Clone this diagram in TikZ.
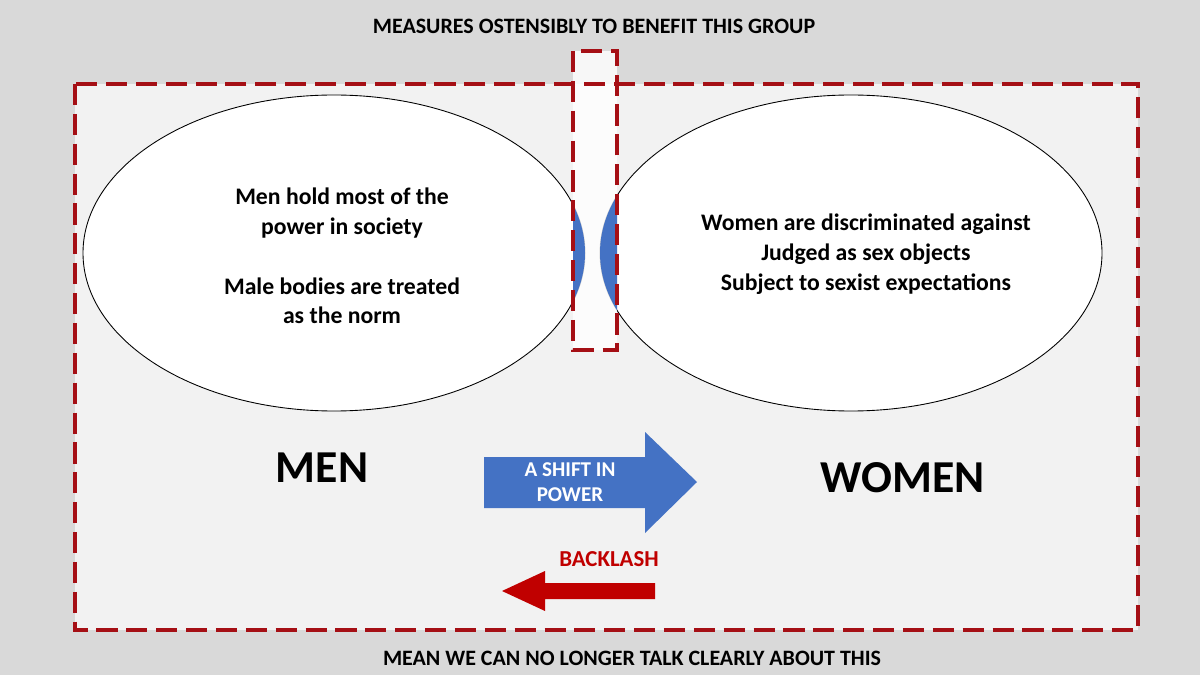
\documentclass[tikz,border=0pt]{standalone}
\usepackage{fontspec}
\setmainfont{Carlito}
\definecolor{dashred}{HTML}{A50F15}
\definecolor{arrowred}{HTML}{C00000}
\definecolor{shiftblue}{HTML}{4472C4}
\tikzset{
  frame/.style={draw=dashred, line width=1.8pt, dash pattern=on 12pt off 5pt},
  group/.style={draw=black, line width=0.5pt, fill=white},
  note/.style={font=\bfseries\fontsize{13.5}{17}\selectfont, align=center},
  caption/.style={font=\bfseries\fontsize{12.5}{15}\selectfont},
  label/.style={font=\bfseries\fontsize{26}{30}\selectfont}
}
\begin{document}
\begin{tikzpicture}[x=0.02cm,y=-0.02cm]
   \fill[gray!30] (0,0) rectangle (1200,675);
   \useasboundingbox (0,0) rectangle (1200,675);
   \fill[gray!10] (75,84) rectangle (1138,630);

   % the two groups
   \draw[group] (334,253) ellipse (251 and 158);
   \draw[group] (851,253) ellipse (251 and 158);
   \fill[white,opacity=0.8] (573,51) rectangle (617,350);
   \begin{scope}
     \clip (573,51) rectangle (617,350);
     \fill[shiftblue] (334,253) ellipse (251 and 158);
     \fill[shiftblue] (851,253) ellipse (251 and 158);
   \end{scope}

   \node[note] (men text) at (342,256) {Men hold most of the\\power in society\\[17pt]Male bodies are treated\\as the norm};
   \node[note] (women text) at (866,254) {Women are discriminated against\\Judged as sex objects\\Subject to sexist expectations};

   % frames
   \draw[frame] (75,84) rectangle (1138,630);
   \draw[frame] (573,51) rectangle (617,350);

   \node[caption] (top) at (594,26) {MEASURES OSTENSIBLY TO BENEFIT THIS GROUP};
   \node[caption] (bottom) at (632,658) {MEAN WE CAN NO LONGER TALK CLEARLY ABOUT THIS};

   \node[label] (men) at (322,468) {MEN};
   \node[label] (women) at (903,478) {WOMEN};

   % shift and backlash
   \fill[shiftblue] (484,457) -- (645,457) -- (645,432) -- (697,482) -- (645,533) -- (645,508) -- (484,508) -- cycle;
   \node[font=\bfseries\fontsize{12}{14}\selectfont, text=white, align=center] (shift) at (570,482) {A SHIFT IN\\POWER};
   \node[font=\bfseries\fontsize{13}{15}\selectfont, text=arrowred] (backlash) at (609,559) {BACKLASH};
   \fill[arrowred] (655,583) -- (545,583) -- (545,571) -- (502,591) -- (545,611) -- (545,599) -- (655,599) -- cycle;
\end{tikzpicture}
\end{document}
